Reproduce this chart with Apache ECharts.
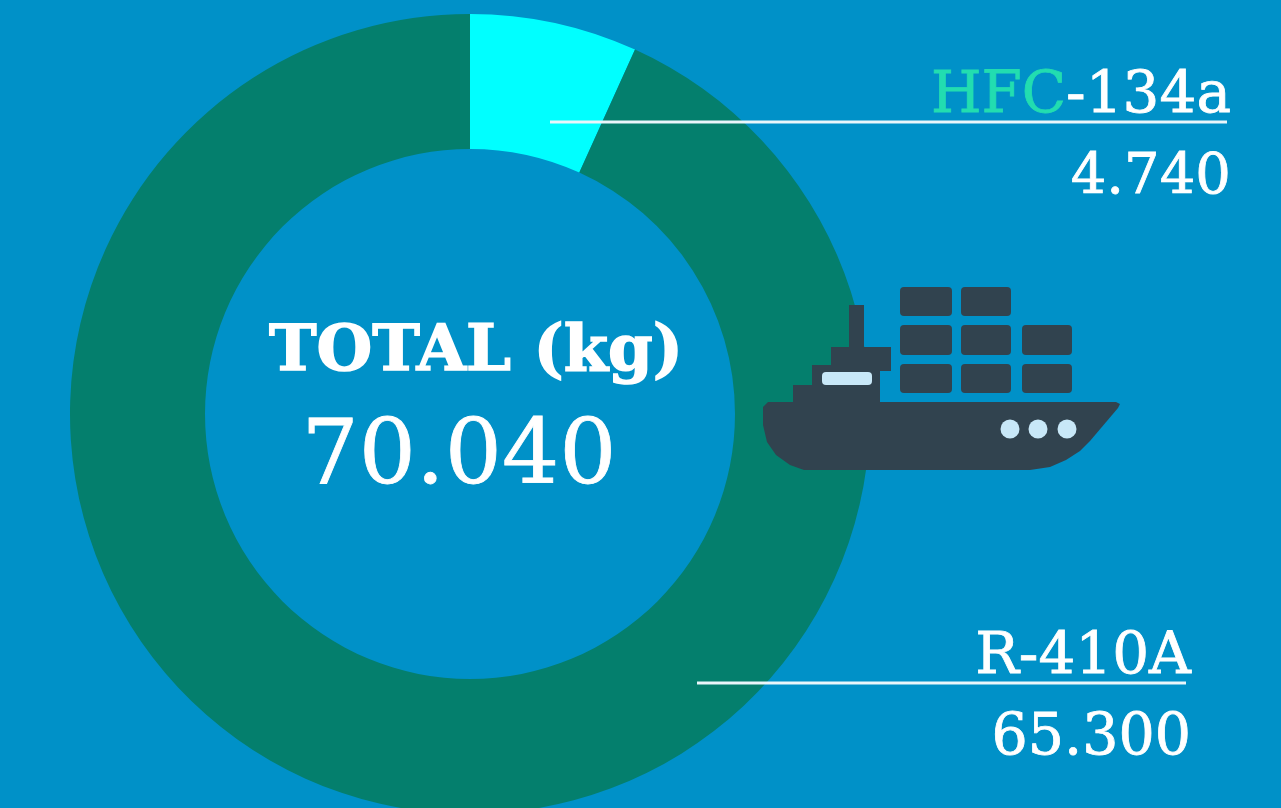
<!DOCTYPE html>
<html>
<head>
<meta charset="utf-8">
<style>
  html, body { margin: 0; padding: 0; background: #0091c8; }
  #chart { width: 1281px; height: 808px; }
</style>
<script src="https://cdn.jsdelivr.net/npm/echarts@6/dist/echarts.min.js"></script>
</head>
<body>
<div id="chart"></div>
<script>
const gases = ['HFC-134a', 'R-410A']
const amounts = [4740, 65300]
const amountLabels = ['4.740', '65.300']
const totalTitle = 'TOTAL (kg)'
const totalLabel = '70.040'

const slabFont = '"DejaVu Serif", serif'
const shipColor = '#31434f'
const lightColor = '#c8e8f8'

const hullOutline = [
  [768, 402], [1116, 402], [1120, 404], [1118, 408], [1090, 441], [1080, 451], [1066, 460],
  [1050, 467], [1030, 470], [804, 470], [790, 465], [776, 455], [767, 442], [763, 425], [763, 407]
]

// y is the text baseline, the font sits about 0.78em above it
const text = (x, y, style) => ({
  type: 'text',
  z: 10,
  x,
  y: y - style.fontSize * 0.78,
  style: { fill: '#fff', stroke: '#fff', lineWidth: 0.8, fontFamily: slabFont, verticalAlign: 'top', ...style }
})

const rule = (x1, x2, y) => ({
  type: 'line',
  z: 10,
  shape: { x1, y1: y, x2, y2: y },
  style: { stroke: '#eaf6fb', lineWidth: 3 }
})

const container = (x, y, width, height) => ({
  type: 'rect',
  z: 10,
  shape: { x, y, width, height, r: 4 },
  style: { fill: shipColor }
})

const shipBlock = (x, y, width, height) => ({
  type: 'rect',
  z: 10,
  shape: { x, y, width, height },
  style: { fill: shipColor }
})

const porthole = (cx) => ({
  type: 'circle',
  z: 11,
  shape: { cx, cy: 429, r: 9.5 },
  style: { fill: lightColor }
})

const chart = echarts.init(document.getElementById('chart'))

chart.setOption({
  backgroundColor: '#0091c8',
  animation: false,
  series: [{
    type: 'pie',
    center: [470, 414],
    radius: [265, 400],
    startAngle: 90,
    clockwise: true,
    silent: true,
    label: { show: false },
    labelLine: { show: false },
    data: gases.map((name, i) => ({
      name,
      value: amounts[i],
      itemStyle: { color: ['#00ffff', '#047f6d'][i] }
    }))
  }],
  graphic: [
    // ship
    container(900, 287, 52, 29),
    container(961, 287, 50, 29),
    container(900, 325, 52, 30),
    container(961, 325, 50, 30),
    container(1022, 325, 50, 30),
    container(900, 364, 52, 29),
    container(961, 364, 50, 29),
    container(1022, 364, 50, 29),
    shipBlock(849, 305, 15, 44),
    shipBlock(831, 347, 60, 24),
    shipBlock(812, 365, 68, 22),
    shipBlock(793, 385, 87, 20),
    {
      type: 'polygon',
      z: 10,
      shape: { points: hullOutline },
      style: { fill: shipColor }
    },
    {
      type: 'rect',
      z: 11,
      shape: { x: 822, y: 372, width: 50, height: 13, r: 4 },
      style: { fill: lightColor }
    },
    porthole(1010),
    porthole(1038),
    porthole(1067),

    // leader lines
    rule(550, 1227, 122),
    rule(697, 1186, 683),

    // labels
    text(1231, 113, {
      text: '{g|HFC}{w|-134a}',
      textAlign: 'right',
      fontSize: 58,
      rich: {
        g: { fill: '#22ddb0', stroke: '#22ddb0', lineWidth: 0.8, fontFamily: slabFont, fontSize: 58 },
        w: { fill: '#fff', stroke: '#fff', lineWidth: 0.8, fontFamily: slabFont, fontSize: 58 }
      }
    }),
    text(1231, 194, { text: amountLabels[0], textAlign: 'right', fontSize: 56 }),
    text(1191, 674, { text: gases[1], textAlign: 'right', fontSize: 58 }),
    text(1191, 755, { text: amountLabels[1], textAlign: 'right', fontSize: 57 }),
    text(476, 371, { text: totalTitle, textAlign: 'center', fontSize: 64, fontWeight: 'bold', lineWidth: 1.5 }),
    text(459, 485, { text: totalLabel, textAlign: 'center', fontSize: 90 })
  ]
})

window.addEventListener('resize', () => {
  chart.resize()
})
</script>
</body>
</html>
